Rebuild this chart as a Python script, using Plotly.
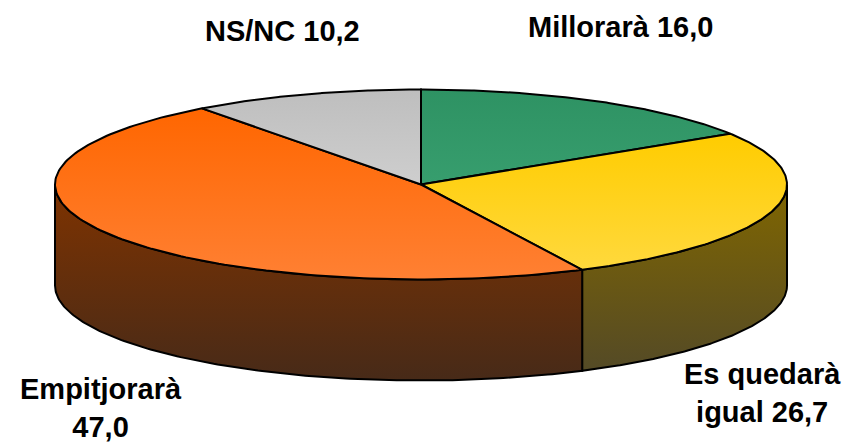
import numpy as np
import plotly.graph_objects as go

categories = ["Millorarà", "Es quedarà igual", "Empitjorarà", "NS/NC"]
values = [16.0, 26.7, 47.0, 10.2]
top_colors = [("#2E9263", "#379E6E"), ("#FFCC00", "#FFD93D"), ("#FF6600", "#FF8033"), ("#BEBEBE", "#CECECE")]
side_colors = [None, ("#806600", "#544A26"), ("#7F3300", "#472A18"), None]

# pie geometry, in the pixel units of the axes below
cx, cy = 421, 184.5
rx, ry = 366, 95
depth = 101


def rim(a0, a1, drop=0.0):
    # points on the ellipse, angles in degrees clockwise from the top
    a = np.radians(np.linspace(a0, a1, 160))
    return cx + rx * np.sin(a), cy - ry * np.cos(a) + drop


def gradient(colors):
    # plotly runs the vertical colorscale from the bottom up
    return dict(type="vertical", colorscale=[[0, colors[1]], [1, colors[0]]])


edges = np.concatenate([[0], np.cumsum(values)]) / sum(values) * 360

fig = go.Figure()

# side walls, only the front half of the pie shows them
for i, colors in enumerate(side_colors):
    a0, a1 = max(edges[i], 90), min(edges[i + 1], 270)
    if colors is None or a0 >= a1:
        continue
    x0, y0 = rim(a0, a1)
    x1, y1 = rim(a0, a1, depth)
    fig.add_trace(go.Scatter(x=np.r_[x0, x1[::-1], x0[0]], y=np.r_[y0, y1[::-1], y0[0]],
                             mode="lines", fill="toself", fillgradient=gradient(colors),
                             line=dict(color="black", width=2), name=categories[i]))

# top of the pie
for i, colors in enumerate(top_colors):
    x0, y0 = rim(edges[i], edges[i + 1])
    fig.add_trace(go.Scatter(x=np.r_[cx, x0, cx], y=np.r_[cy, y0, cy],
                             mode="lines", fill="toself", fillgradient=gradient(colors),
                             line=dict(color="black", width=2), name=categories[i]))


def fmt(v):
    return f"{v:.1f}".replace(".", ",")


labels = [
    (f"{categories[0]} {fmt(values[0])}", 620, 27),
    (f"Es quedarà<br>igual {fmt(values[1])}", 762, 393),
    (f"{categories[2]}<br>{fmt(values[2])}", 101, 408),
    (f"{categories[3]} {fmt(values[3])}", 282, 31),
]
for text, x, y in labels:
    fig.add_annotation(x=x, y=y, text=f"<b>{text}</b>", showarrow=False, align="center",
                       font=dict(family="Liberation Sans", size=29, color="black"))

fig.update_layout(width=842, height=443, margin=dict(l=0, r=0, t=0, b=0),
                  showlegend=False, paper_bgcolor="white", plot_bgcolor="white",
                  xaxis=dict(range=[0, 842], visible=False),
                  yaxis=dict(range=[443, 0], visible=False))

fig.write_html("out.html", config=dict(displayModeBar=False),
               post_script="document.body.style.margin='0';")
